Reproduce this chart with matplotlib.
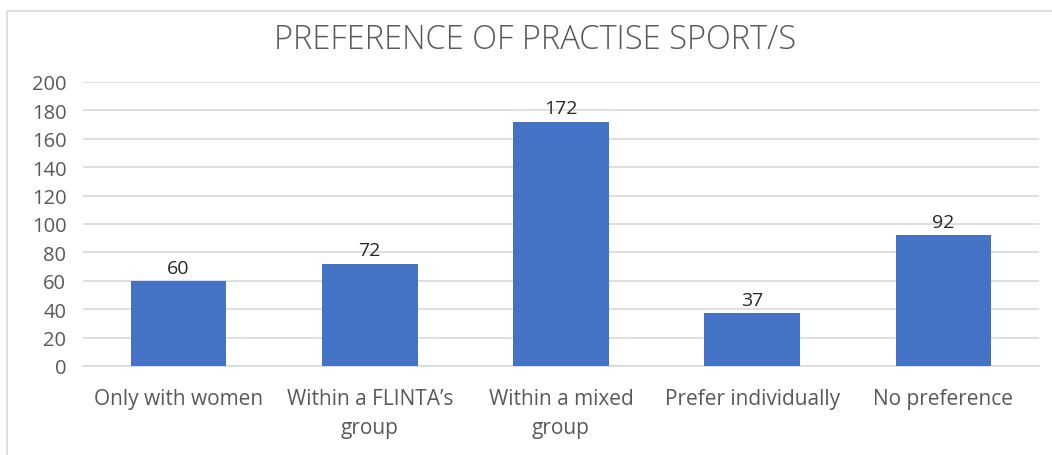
import matplotlib.pyplot as plt
import numpy as np
from matplotlib.patches import Rectangle

categories = ["Only with women", "Within a FLINTA\u2019s\ngroup", "Within a mixed\ngroup",
              "Prefer individually", "No preference"]
counts = [60, 72, 172, 37, 92]

plt.rcParams['font.family'] = ['Open Sans', 'DejaVu Sans']

fig = plt.figure(figsize=(10.52, 4.56), dpi=100)
ax = fig.add_axes([83 / 1052, 1 - 367 / 456, 956 / 1052, 284 / 456])

x = np.arange(len(categories))
bars = ax.bar(x, counts, width=0.50, color='#4472C4', zorder=3)

for b, v in zip(bars, counts):
    ax.text(b.get_x() + b.get_width() / 2, v + 3, str(v), ha='center', va='bottom',
            fontsize=14, color='#262626')

ax.set_xlim(-0.5, len(categories) - 0.5)
ax.set_ylim(0, 200)
ax.set_yticks(range(0, 201, 20))
ax.set_xticks(x)
ax.set_xticklabels(categories, fontsize=15, color='#595959', linespacing=1.5)
ax.tick_params(axis='y', labelsize=14.5, labelcolor='#595959', length=0, pad=12)
ax.tick_params(axis='x', length=0, pad=16)
ax.grid(axis='y', color='#d9d9d9', linewidth=1.2, zorder=0)
for s in ['top', 'right', 'left']:
    ax.spines[s].set_visible(False)
ax.spines['bottom'].set_color('#d9d9d9')
ax.spines['bottom'].set_linewidth(1.2)

fig.text(535 / 1052, 1 - 40 / 456, "PREFERENCE OF PRACTISE SPORT/S", ha='center', va='center',
         fontsize=23.5, color='#595959', fontweight='light')

fig.patches.append(Rectangle((7 / 1052, -0.01), 1.1, 1 - 12 / 456 + 0.01, transform=fig.transFigure,
                             fill=False, edgecolor='#d9d9d9', linewidth=1.2))

fig.savefig('out.png', dpi=100)
